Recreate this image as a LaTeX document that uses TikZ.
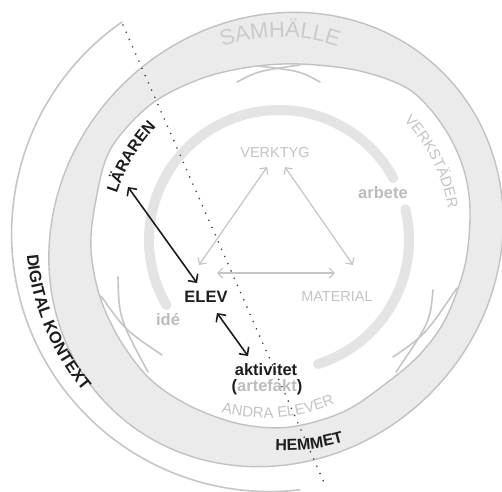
\documentclass[tikz,border=0pt]{standalone}
\usepackage{fontspec}
\setmainfont{Liberation Sans}
\usetikzlibrary{arrows.meta,decorations.text}
\definecolor{ringfill}{HTML}{EBEBEB}
\definecolor{ringline}{HTML}{C2C2C2}
\definecolor{thinline}{HTML}{C6C6C6}
\definecolor{thickarc}{HTML}{E4E4E4}
\definecolor{lighttext}{HTML}{C4C4C4}
\definecolor{midtext}{HTML}{BCBCBC}
\definecolor{samtext}{HTML}{CBCBCB}
\definecolor{darktext}{HTML}{1E1E1E}
\tikzset{
  ring/.style={draw=ringline, line width=1.4},
  thin arc/.style={draw=thinline, line width=1.6, line cap=round},
  thick arc/.style={draw=thickarc, line width=10, line cap=round},
  lightlabel/.style={text=lighttext, inner sep=0pt, font=\fontsize{14.5}{16}\selectfont},
  boldgray/.style={text=midtext, inner sep=0pt, font=\fontsize{16.5}{18}\selectfont\bfseries},
  darklabel/.style={text=darktext, inner sep=0pt, font=\fontsize{16.5}{18}\selectfont\bfseries},
  grayarrow/.style={draw=thinline, line width=1.2, {Straight Barb[length=5pt,width=10pt]}-{Straight Barb[length=5pt,width=10pt]}},
  darkarrow/.style={draw=darktext, line width=1.6, {Straight Barb[length=6pt,width=12pt]}-{Straight Barb[length=6pt,width=12pt]}},
  border/.style={draw=darktext!85, line width=1.8, line cap=round, dash pattern=on 0pt off 7.9pt},
  arctext/.style={decorate, decoration={text along path, text align=center, text color=#1}}
}
\begin{document}
\begin{tikzpicture}[x=1pt,y=-1pt]
\useasboundingbox (0,0) rectangle (502,491);
\fill[white] (0,0) rectangle (502,491);
\clip (0,0) rectangle (502,491);

% outer thin arc (digital context)
\draw[thin arc] (122,22) arc[start angle=235.1, end angle=83.3, radius=258];

% society ring: outer boundary
\path[ring, fill=ringfill, rotate around={45:(276,239.5)}] (276,239.5) ellipse[x radius=236, y radius=218];
% inner boundary
\path[ring, fill=white] plot[smooth cycle, tension=0.55] coordinates {
  (91,250) (95,205) (110,150) (150,105) (200,79) (250,67) (300,64) (360,71)
  (410,90) (443,126) (463,167) (470,210) (465,265) (446,318) (422,352)
  (393,378) (345,411) (290,427) (240,424) (190,406) (150,379) (120,340) (100,297)};

% crossing thin arcs
\draw[thin arc] (237,82) .. controls (258,71) .. (300,65);
\draw[thin arc] (320,82) .. controls (300,71) .. (258,66);
\draw[thin arc] (118,277) .. controls (119,318) .. (148,372);
\draw[thin arc] (162,355) .. controls (125,330) .. (101,296);
\draw[thin arc] (433,290) .. controls (430,322) .. (396,372);
\draw[thin arc] (393,357) .. controls (425,335) .. (457,288);

% thick light arc round the triangle
\draw[thick arc] (279,240) ++(150:130) arc[start angle=150, end angle=331.5, radius=130];
\draw[thick arc] (279,240) ++(-13.6:130) arc[start angle=-13.6, end angle=72.5, radius=130];

% labels
\node[lightlabel] (verktyg) at (275,153) {VERKTYG};
\node[lightlabel] (material) at (337,297) {MATERIAL};
\node[darklabel] (elev) at (206,297) {ELEV};
\node[darklabel] (aktiv) at (266,370) {aktivitet};
\node[darklabel] (arte) at (267,387) {(\textcolor{midtext}{artefakt})};
\node[boldgray] (ide) at (168,320) {idé};
\node[boldgray] (arbete) at (383,193) {arbete};

% texts along arcs
\path[arctext=samtext, decoration={text={|\fontsize{22}{24}\selectfont|SAMHÄLLE}}]
  (280,212) ++(230:175) arc[start angle=230, end angle=310, radius=175];
\path[arctext=lighttext, decoration={text={|\fontsize{14.8}{16}\selectfont|VERKSTÄDER}}]
  (285,235) ++(-61.5:165) arc[start angle=-61.5, end angle=8.5, radius=165];
\path[arctext=lighttext, decoration={text={|\fontsize{15}{16}\selectfont|ANDRA ELEVER}}]
  (265,240) ++(130:178) arc[start angle=130, end angle=41, radius=178];
\path[arctext=darktext, decoration={text={|\fontsize{16}{18}\selectfont\bfseries|HEMMET}}]
  (285,240) ++(103.2:210.5) arc[start angle=103.2, end angle=63.2, radius=210.5];
\path[arctext=darktext, decoration={text={|\fontsize{16}{18}\selectfont\bfseries|LÄRAREN}}]
  (280,245) ++(180.6:171) arc[start angle=180.6, end angle=240.6, radius=171];
\path[arctext=darktext, decoration={text={|\fontsize{16.5}{18}\selectfont\bfseries|DIGITAL KONTEXT}}]
  (270,234) ++(200:244) arc[start angle=200, end angle=115, radius=244];

% arrow end points
\coordinate (eV) at (199,265);
\coordinate (vE) at (267,167);
\coordinate (vM) at (285,167);
\coordinate (mV) at (353,265);
\coordinate (eM) at (217,273);
\coordinate (mE) at (335,273);
\coordinate (lE) at (128,187);
\coordinate (eL) at (197,283);
\coordinate (eA) at (217,313);
\coordinate (aE) at (248,356);
\coordinate (dTop) at (123,25);
\coordinate (dBot) at (326,487);

\draw[grayarrow] (eV) -- (vE);
\draw[grayarrow] (vM) -- (mV);
\draw[grayarrow] (eM) -- (mE);
\draw[darkarrow] (lE) -- (eL);
\draw[darkarrow] (eA) -- (aE);

% dotted boundary
\draw[border] (dTop) -- (dBot);
\end{tikzpicture}
\end{document}
